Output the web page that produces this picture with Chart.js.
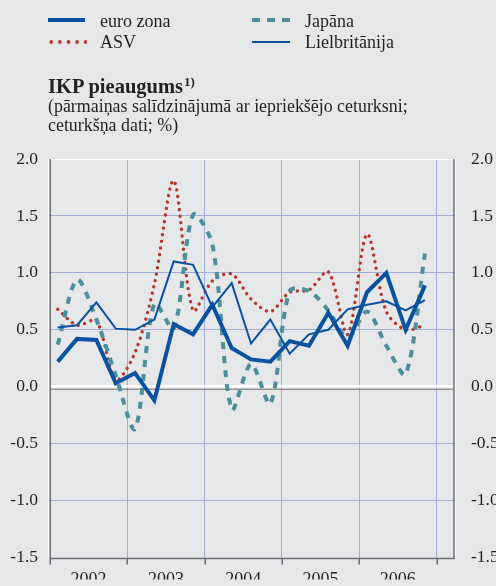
<!DOCTYPE html>
<html>
<head>
<meta charset="utf-8">
<script src="https://cdn.jsdelivr.net/npm/chart.js@4/dist/chart.umd.min.js"></script>
<style>
  html, body { margin: 0; padding: 0; background: #e6e7e9; overflow: hidden; }
  body { width: 496px; height: 586px; position: relative; font-family: "Liberation Serif", "DejaVu Serif", serif; color: #231f20; }
  #chart { position: absolute; left: 0; top: 0; }
  .txt { position: absolute; white-space: nowrap; font-size: 18px; line-height: 20px; }
  .sample { position: absolute; }
  #title { position: absolute; left: 48px; top: 74px; font-weight: bold; font-size: 20.5px; line-height: 24px; white-space: nowrap; }
  #title sup { font-size: 13px; position: relative; top: -7px; vertical-align: baseline; margin-left: 1px; }
  #subtitle { position: absolute; left: 48px; top: 97px; font-size: 17.9px; line-height: 19px; white-space: nowrap; }
</style>
</head>
<body>
<canvas id="chart" width="496" height="586"></canvas>

<div class="sample" style="left:48px; top:18px; width:37px; height:4px; background:#0a52a0;"></div>
<div class="txt" style="left:100px; top:11px;">euro zona</div>
<div class="sample" style="left:47px; top:40px; width:40px; height:4px; background: radial-gradient(circle, #b5362a 1.6px, transparent 2.1px) 0 0 / 8.6px 4px repeat-x;"></div>
<div class="txt" style="left:100px; top:32px;">ASV</div>
<div class="sample" style="left:252px; top:18px; width:38px; height:4px; background: repeating-linear-gradient(to right, #4a8f9b 0 8px, transparent 8px 15px);"></div>
<div class="txt" style="left:305px; top:11px;">Japāna</div>
<div class="sample" style="left:252px; top:41px; width:38px; height:2px; background:#0a52a0;"></div>
<div class="txt" style="left:305px; top:32px;">Lielbritānija</div>

<div id="title">IKP pieaugums<sup>1)</sup></div>
<div id="subtitle">(pārmaiņas salīdzinājumā ar iepriekšējo ceturksni;<br>ceturkšņa dati; %)</div>

<script>
// quarterly growth, 2002 Q1 .. 2006 Q4
const years = ["2002", "2003", "2004", "2005", "2006"];
const euroZona = [0.22, 0.42, 0.41, 0.03, 0.12, -0.12, 0.55, 0.46, 0.72, 0.34, 0.24, 0.22, 0.40, 0.36, 0.65, 0.36, 0.83, 1.00, 0.50, 0.89];
const asv = [0.68, 0.54, 0.58, 0.06, 0.30, 0.90, 1.81, 0.67, 0.93, 0.99, 0.77, 0.66, 0.83, 0.85, 1.01, 0.46, 1.34, 0.66, 0.50, 0.54];
const japana = [0.37, 0.94, 0.59, 0.10, -0.37, 0.73, 0.51, 1.51, 1.25, -0.20, 0.20, -0.15, 0.84, 0.84, 0.67, 0.43, 0.66, 0.36, 0.11, 1.17];
const lielbritanija = [0.52, 0.54, 0.74, 0.51, 0.50, 0.59, 1.10, 1.07, 0.70, 0.91, 0.38, 0.59, 0.29, 0.46, 0.50, 0.68, 0.72, 0.75, 0.67, 0.76];
const yTicks = [-1.5, -1.0, -0.5, 0.0, 0.5, 1.0, 1.5, 2.0];

const blue = "#0a52a0";
const teal = "#4a8f9b";
const red = "#b5362a";
const gridCol = "#a3acd6";
const axisGrey = "#6d6e71";
const font = { family: "'Liberation Serif', serif", size: 17.5 };

function toPoints(arr) {
  return arr.map((v, i) => ({ x: i + 0.4, y: v }));
}

// embossed axis lines like the printed original
const frame = {
  id: "frame",
  beforeDatasetsDraw(chart) {
    const { ctx, chartArea } = chart;
    const { left, right, top, bottom } = chartArea;
    const y0 = chart.scales.y.getPixelForValue(0);
    ctx.save();
    ctx.strokeStyle = axisGrey;
    ctx.lineWidth = 1;
    ctx.beginPath();
    ctx.moveTo(left, y0 + 2.5);
    ctx.lineTo(right, y0 + 2.5);
    ctx.stroke();
    // left axis
    ctx.strokeStyle = "#ffffff";
    ctx.beginPath();
    ctx.moveTo(left - 1.5, top);
    ctx.lineTo(left - 1.5, bottom);
    ctx.stroke();
    ctx.strokeStyle = axisGrey;
    ctx.lineWidth = 1.5;
    ctx.beginPath();
    ctx.moveTo(left + 0.25, top);
    ctx.lineTo(left + 0.25, bottom + 1);
    ctx.stroke();
    // right border
    ctx.beginPath();
    ctx.moveTo(right + 1, top);
    ctx.lineTo(right + 1, bottom + 1.5);
    ctx.stroke();
    ctx.strokeStyle = "#ffffff";
    ctx.lineWidth = 1;
    ctx.beginPath();
    ctx.moveTo(right + 2.5, top);
    ctx.lineTo(right + 2.5, bottom + 2);
    ctx.stroke();
    // bottom axis with year ticks
    ctx.strokeStyle = axisGrey;
    ctx.lineWidth = 1.5;
    ctx.beginPath();
    ctx.moveTo(left, bottom + 1);
    ctx.lineTo(right + 1.5, bottom + 1);
    chart.scales.x.ticks.forEach(t => {
      const px = Math.round(chart.scales.x.getPixelForValue(t.value)) + 0.25;
      ctx.moveTo(px, bottom + 1);
      ctx.lineTo(px, bottom + 7);
    });
    ctx.stroke();
    ctx.restore();
  }
};

new Chart(document.getElementById("chart"), {
  type: "line",
  data: {
    datasets: [
      { label: "euro zona", data: toPoints(euroZona), borderColor: blue, borderWidth: 4, tension: 0, order: 1 },
      { label: "Lielbritānija", data: toPoints(lielbritanija), borderColor: blue, borderWidth: 2, tension: 0, order: 2 },
      { label: "Japāna", data: toPoints(japana), borderColor: teal, borderWidth: 4, borderDash: [7, 7], borderCapStyle: "butt", tension: 0.3, order: 3 },
      { label: "ASV", data: toPoints(asv), borderColor: red, borderWidth: 3.4, borderDash: [0.01, 6.6], borderCapStyle: "round", tension: 0.3, order: 4 }
    ]
  },
  options: {
    responsive: false,
    animation: false,
    layout: { padding: { top: 159, bottom: 0, left: 0, right: 0 } },
    elements: { point: { radius: 0 } },
    plugins: { legend: { display: false }, tooltip: { enabled: false } },
    scales: {
      x: {
        type: "linear",
        min: 0,
        max: 20.85,
        afterBuildTicks: s => { s.ticks = [0, 4, 8, 12, 16, 20].map(v => ({ value: v })); },
        afterFit: s => { s.height = 22; },
        border: { display: false },
        grid: {
          drawTicks: false,
          lineWidth: 1,
          color: c => (c.tick && c.tick.value === 0) ? "rgba(0,0,0,0)" : gridCol
        },
        ticks: {
          padding: 12,
          color: "#231f20",
          font: { family: "'Liberation Serif', serif", size: 18 },
          maxRotation: 0,
          autoSkip: false,
          labelOffset: 38.6,
          callback: (v, i) => years[i] || ""
        }
      },
      y: {
        position: "left",
        min: -1.5,
        max: 2.0,
        afterBuildTicks: s => { s.ticks = yTicks.map(v => ({ value: v })); },
        afterFit: s => { s.width = 50; },
        border: { display: false },
        grid: {
          drawTicks: false,
          color: c => {
            const v = c.tick ? c.tick.value : null;
            if (v === 2 || v === 0) return "#ffffff";
            if (v === -1.5) return "rgba(0,0,0,0)";
            return gridCol;
          },
          lineWidth: c => (c.tick && c.tick.value === 0) ? 2.5 : 1
        },
        ticks: { padding: 12, color: "#231f20", font: font, callback: v => v.toFixed(1) }
      },
      y2: {
        position: "right",
        min: -1.5,
        max: 2.0,
        afterBuildTicks: s => { s.ticks = yTicks.map(v => ({ value: v })); },
        afterFit: s => { s.width = 43; },
        border: { display: false },
        grid: { display: false, drawTicks: false },
        ticks: { padding: 18, color: "#231f20", font: font, callback: v => v.toFixed(1) }
      }
    }
  },
  plugins: [frame]
});
</script>
</body>
</html>
